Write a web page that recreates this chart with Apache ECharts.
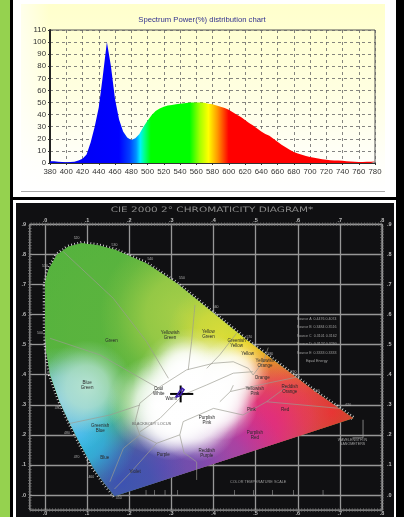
<!DOCTYPE html>
<html><head><meta charset="utf-8">
<style>html,body{margin:0;padding:0;background:#000}#main{width:404px;height:517px;filter:blur(0.5px)}</style>
<script src="https://cdn.jsdelivr.net/npm/echarts@6/dist/echarts.min.js"></script>
</head><body><div id="main"></div>
<script>
// ---------- spectrum data ----------
const wavelengths=[380,385,390,395,400,405,410,415,420,425,430,435,440,445,450,455,460,465,470,475,480,485,490,495,500,505,510,515,520,525,530,535,540,545,550,555,560,565,570,575,580,585,590,595,600,605,610,615,620,625,630,635,640,645,650,655,660,665,670,675,680,685,690,695,700,705,710,715,720,725,730,735,740,745,750,755,760,765,770,775,780];
const powerPct=[1.5,1.5,1,.8,.7,.8,1,2,3.5,7,17,30,46,72,100,80,53,36,26,21,19,20.5,24,30,35,39.5,43,45,46.5,47.5,48,48.5,49,49.5,49.8,50,50,50,49.8,49,48.5,47.5,46.5,45.5,44,42,40,38,35.5,33,31,28.5,26,24,22.5,20,17.5,15,13,11,9,7.8,6.8,5.8,5,4.3,3.8,3.2,2.7,2.3,2,2,1.9,1.5,1.2,1,.9,.8,1,1,1.2];
const spectrumTitle='Spectrum Power(%) distribution chart';
const stopNm=[380,465,478,486,491,496,504,552,564,575,586,600,780];
const stopColor=['#0000f0','#0000ff','#0040ff','#0090ff','#00f0ff','#00ff90','#00ff00','#00ff00','#a0ff00','#ffff00','#ff9a00','#ff0000','#ff0000'];

// ---------- chromaticity data ----------
const diagramTitle='CIE 2000 2\u00b0 CHROMATICITY DIAGRAM*';
const xTickLabels=['.0','.1','.2','.3','.4','.5','.6','.7','.8'];
const yTickLabels=['.0','.1','.2','.3','.4','.5','.6','.7','.8','.9'];
const spectralLocus=[[.165,-.004],[.14,.04],[.115,.089],[.085,.165],[.059,.238],[.035,.31],[.012,.40],[.003,.48],[0,.56],[0,.704],[.008,.748],[.028,.798],[.055,.825],[.087,.837],[.125,.83],[.166,.815],[.241,.77],[.3125,.704],[.4,.604],[.483,.51],[.56,.43],[.64,.345],[.732,.255]];
const regionLines=[
[[.0435,.809],[.162,.654],[.241,.51],[.293,.388]],
[[.356,.632],[.348,.51],[.34,.416]],
[[.455,.538],[.415,.466],[.384,.421]],
[[.012,.521],[.13,.466],[.269,.355]],
[[.059,.238],[.154,.266],[.225,.299]],
[[.154,.044],[.186,.155],[.225,.2]],
[[.165,.02],[.2,.07],[.265,.172]],
[[.32,.2],[.33,.14],[.36,.11],[.36,.05]],
[[.328,.244],[.4,.288],[.47,.266],[.526,.31],[.7,.288]],
[[.44,.344],[.526,.371],[.605,.394]],
[[.415,.31],[.44,.344],[.447,.365]],
[[.526,.31],[.574,.36]],
[[.494,.399],[.518,.443],[.53,.49]],
[[.214,.244],[.225,.305],[.273,.36],[.336,.416],[.4,.438],[.447,.443],[.483,.421],[.494,.399]],
[[.214,.244],[.225,.2],[.265,.172],[.32,.2],[.328,.244]],
[[.225,.21],[.273,.255],[.328,.333],[.384,.366],[.447,.405],[.494,.41]]
];
const regionNames=['Green','Yellowish\nGreen','Yellow\nGreen','Greenish\nYellow','Yellow','Yellowish\nOrange','Orange','Yellowish\nPink','Reddish\nOrange','Pink','Red','Purplish\nRed','Purplish\nPink','Reddish\nPurple','Purple','Violet','Blue','Greenish\nBlue','Blue\nGreen','Cool\nWhite','Warm'];
const regionX=[.158,.297,.388,.455,.481,.522,.516,.498,.581,.49,.57,.498,.384,.384,.281,.214,.142,.131,.1,.27,.3];
const regionY=[.513,.532,.534,.504,.468,.438,.39,.346,.351,.283,.283,.2,.249,.139,.135,.078,.124,.222,.366,.345,.32];
const wlNames=['520','510','530','540','550','560','570','580','590','600','620','500','490','480','470','460','450'];
const wlX=[.075,.0,.165,.25,.325,.405,.485,.535,.59,.645,.72,-.012,.03,.052,.075,.11,.175];
const wlY=[.855,.76,.83,.785,.72,.625,.525,.47,.41,.345,.3,.54,.29,.205,.125,.06,-.01];
const crossH=[[.297,.336],[.352,.336]];
const crossV=[[.322,.308],[.322,.364]];
const samplePath=[[.31,.325],[.32,.33],[.33,.35],[.325,.355],[.315,.335],[.31,.325]];
const leader=[[.755,.25],[.755,.19],[.73,.19]];
const legendRows=['Source A  0.4476 0.4074','Source B  0.3484 0.3516','Source C  0.3101 0.3162','Source D  0.3127 0.3290','Source E  0.3333 0.3333','Equal Energy'];
const tempLabel='COLOR TEMPERATURE SCALE';
const tempTicksX=[.24,.26,.285,.315,.4,.45,.495,.54,.59,.66];
// colour field anchors for the diagram fill
const fieldPoint=[[.05,.5],[.1,.72],[.2,.55],[.33,.6],[.42,.53],[.49,.455],[.56,.38],[.68,.275],[.56,.27],[.47,.19],[.39,.1],[.28,.09],[.18,.04],[.08,.2],[.04,.31],[.1,.36],[.35,.36],[.27,.3],[.33,.31],[.4,.37],[.45,.405],[.36,.25],[.42,.3],[.3,.24],[.33,.42]];
const fieldReach=[.3,.3,.3,.2,.13,.085,.14,.16,.15,.19,.18,.17,.16,.14,.13,.11,.14,.12,.13,.11,.085,.1,.085,.09,.08];
const fieldColor=['#52b33c','#55b23e','#5bb43e','#a7cf48','#d9dc38','#f6de12','#ee8f28','#e8322e','#e84050','#e0288a','#9a48ac','#6b4cb0','#3d52b2','#2fb6ee','#80c8e8','#b4e2d0','#ffffff','#ffffff','#ffffff','#ffffff','#ffffff','#ffffff','#ffffff','#ffffff','#ffffff'];

// ---------- chrome and helpers ----------
const frameBox=[[-.036,-.05],[.8,-.05],[.8,.9],[-.036,.9],[-.036,-.05]];
function grad(color){return {type:'radial',x:.5,y:.5,r:.5,colorStops:[{offset:0,color:color},{offset:.45,color:echarts.color.modifyAlpha(color,.75)},{offset:.8,color:echarts.color.modifyAlpha(color,.2)},{offset:1,color:echarts.color.modifyAlpha(color,0)}]};}
function polySeries(name,lines,style,z){return {name,type:'custom',xAxisIndex:1,yAxisIndex:1,z:z,silent:true,animation:false,
  data:lines.map((l,i)=>[l[0][0],l[0][1],i]),encode:{x:0,y:1},
  renderItem:(p,api)=>({type:'polyline',shape:{points:lines[api.value(2)].map(c=>api.coord(c))},style:Object.assign({fill:null},style)})};}
function textSeries(name,names,xs,ys,style,z){return {name,type:'custom',xAxisIndex:1,yAxisIndex:1,z:z,silent:true,animation:false,
  data:names.map((n,i)=>[xs[i],ys[i],i]),encode:{x:0,y:1},
  renderItem:(p,api)=>{const c=api.coord([api.value(0),api.value(1)]);return {type:'text',x:c[0],y:c[1],style:Object.assign({text:names[api.value(2)],align:'center',verticalAlign:'middle',fontFamily:'Liberation Sans'},style)};}};}
const clipOf=api=>({type:'polygon',shape:{points:spectralLocus.map(c=>api.coord(c))}});
const labelStyle={color:'#bdbdbd',fontSize:5.5,fontWeight:'bold',fontFamily:'Liberation Sans'};
const xFmt=v=>xTickLabels[Math.round(v*10)];
const yFmt=v=>yTickLabels[Math.round(v*10)];

const chart=echarts.init(document.getElementById('main'),null,{renderer:'canvas'});
chart.setOption({
 animation:false,backgroundColor:'#000',
 title:[
  {text:spectrumTitle,left:197,top:11,textAlign:'center',textStyle:{color:'#33338f',fontSize:7.7,fontWeight:'normal',fontFamily:'Liberation Sans'}}
 ],
 graphic:[
  {type:'rect',z:-10,shape:{x:0,y:0,width:10,height:517},style:{fill:'#95d24f'},silent:true},
  {type:'rect',z:-10,shape:{x:13,y:0,width:383,height:197},style:{fill:'#fff'},silent:true},
  {type:'rect',z:-9,shape:{x:21,y:4,width:364,height:187},style:{fill:{type:'linear',x:0,y:0,x2:0,y2:1,colorStops:[{offset:0,color:'#ffffcc'},{offset:.45,color:'#ffffe0'},{offset:.85,color:'#fffffa'},{offset:1,color:'#ffffff'}]}},silent:true},
  {type:'rect',z:-9,shape:{x:21,y:4,width:28,height:187},style:{fill:{type:'linear',x:0,y:0,x2:1,y2:0,colorStops:[{offset:0,color:'rgba(255,255,255,.6)'},{offset:1,color:'rgba(255,255,255,0)'}]}},silent:true},
  {type:'rect',z:-8,shape:{x:21,y:191,width:364,height:1},style:{fill:'#a8a8a8'},silent:true},
  {type:'rect',z:-10,shape:{x:13,y:200,width:383,height:317},style:{fill:'#fff'},silent:true},
  {type:'rect',z:-9,shape:{x:16,y:203,width:378,height:314},style:{fill:'#101012'},silent:true},
  {type:'text',z:20,x:212,y:210,scaleX:1.4,silent:true,style:{text:diagramTitle,align:'center',verticalAlign:'middle',fill:'#8a8a8a',fontSize:7.5,fontFamily:'DejaVu Sans'}}
 ],
 grid:[
  {left:50,right:29,top:30,bottom:354,show:true,borderColor:'#555',borderWidth:1,backgroundColor:'transparent'},
  {left:45,right:22,top:224.3,bottom:22}
 ],
 xAxis:[
  {gridIndex:0,type:'value',min:380,max:780,interval:20,axisLine:{show:true,lineStyle:{color:'#333',width:1}},axisTick:{length:2,lineStyle:{color:'#333'}},
   axisLabel:{color:'#333',fontSize:7.8,margin:5,fontFamily:'Liberation Sans',hideOverlap:false,showMinLabel:true,showMaxLabel:true},
   splitLine:{show:true,lineStyle:{color:'#666',type:[3,3],width:.8}}},
  {gridIndex:1,type:'value',position:'bottom',min:0,max:.8,interval:.1,axisLine:{show:false},
   axisTick:{show:true,length:15,lineStyle:{color:'#979797',width:1.3}},
   axisLabel:Object.assign({margin:15,formatter:xFmt},labelStyle),
   splitLine:{show:true,lineStyle:{color:'#979797',width:1.3}}},
  {gridIndex:1,type:'value',position:'top',min:0,max:.8,interval:.1,axisLine:{show:false},axisTick:{show:false},
   axisLabel:Object.assign({margin:1,formatter:xFmt},labelStyle),splitLine:{show:false}}
 ],
 yAxis:[
  {gridIndex:0,type:'value',min:0,max:110,interval:10,axisLine:{show:true,lineStyle:{color:'#222',width:2}},axisTick:{length:2,lineStyle:{color:'#333'}},
   axisLabel:{color:'#333',fontSize:7.8,margin:4,fontFamily:'Liberation Sans'},
   splitLine:{show:true,lineStyle:{color:'#666',type:[3,3],width:.8}}},
  {gridIndex:1,type:'value',position:'left',min:0,max:.9,interval:.1,axisLine:{show:false},
   axisTick:{show:true,length:15,lineStyle:{color:'#979797',width:1.3}},
   axisLabel:Object.assign({margin:19,formatter:yFmt},labelStyle),
   splitLine:{show:true,lineStyle:{color:'#979797',width:1.3}}},
  {gridIndex:1,type:'value',position:'right',min:0,max:.9,interval:.1,axisLine:{show:false},axisTick:{show:false},
   axisLabel:Object.assign({margin:5,formatter:yFmt},labelStyle),splitLine:{show:false}}
 ],
 series:[
  {name:'Spectrum',type:'line',xAxisIndex:0,yAxisIndex:0,z:3,symbol:'none',silent:true,
   data:wavelengths.map((w,i)=>[w,powerPct[i]]),
   lineStyle:{width:0},
   areaStyle:{opacity:1,color:{type:'linear',x:0,y:0,x2:1,y2:0,colorStops:stopNm.map((n,i)=>({offset:(n-380)/400,color:stopColor[i]}))}}},
  polySeries('Frame',[frameBox],{stroke:'#9a9a9a',lineWidth:1.3},3),
  polySeries('FrameTicks',[frameBox],{stroke:'#777',lineWidth:3.5,lineDash:[.7,2.1]},3),
  polySeries('LocusFringe',[spectralLocus],{stroke:'#e0e0e0',lineWidth:4.5,lineDash:[.8,2.4]},4),
  polySeries('Leader',[leader],{stroke:'#9a9a9a',lineWidth:.8},4),
  {name:'LocusFill',type:'custom',xAxisIndex:1,yAxisIndex:1,z:5,silent:true,
   data:spectralLocus.map((c,i)=>[c[0],c[1],i]),encode:{x:0,y:1},
   renderItem:(p,api)=>api.value(2)===0?{type:'polygon',shape:{points:spectralLocus.map(c=>api.coord(c))},style:{fill:'#55b33e'}}:null},
  {name:'ColourField',type:'custom',xAxisIndex:1,yAxisIndex:1,z:6,silent:true,
   data:fieldPoint.map((c,i)=>[c[0],c[1],i]),encode:{x:0,y:1},
   renderItem:(p,api)=>{const i=api.value(2),c=api.coord([api.value(0),api.value(1)]),r=api.size([fieldReach[i],0])[0];
     return {type:'circle',shape:{cx:c[0],cy:c[1],r:r},style:{fill:grad(fieldColor[i])},clipPath:clipOf(api)};}},
  polySeries('Regions',regionLines,{stroke:'#9c9c92',opacity:.85,lineWidth:.8},7),
  textSeries('RegionNames',regionNames,regionX,regionY,{fill:'#2a2a2a',fontSize:4.5,lineHeight:5},8),
  textSeries('LocusTitle',['BLACKBODY LOCUS'],[.253],[.238],{fill:'#666',fontSize:4},8),
  textSeries('Wavelengths',wlNames,wlX,wlY,{fill:'#b0b0b0',fontSize:3.5},8),
  textSeries('Legend',legendRows,legendRows.map(()=>.645),legendRows.map((_,i)=>.585-i*.028),{fill:'#a0a0a0',fontSize:3.6},8),
  textSeries('TempLabel',[tempLabel],[.506],[.042],{fill:'#9a9a9a',fontSize:3.8},8),
  textSeries('TempTicks',tempTicksX.map(()=>'|'),tempTicksX,tempTicksX.map(()=>.01),{fill:'#b0b0b0',fontSize:6},8),
  textSeries('WlLegend',['WAVELENGTH IN\nNANOMETERS'],[.73],[.175],{fill:'#a0a0a0',fontSize:3.6,lineHeight:4},8),
  polySeries('CrossH',[crossH],{stroke:'#050505',lineWidth:2},9),
  polySeries('CrossV',[crossV],{stroke:'#050505',lineWidth:2},9),
  polySeries('Sample',[samplePath],{stroke:'#3a1aa8',lineWidth:1.6},10)
 ]
});
</script></body></html>
